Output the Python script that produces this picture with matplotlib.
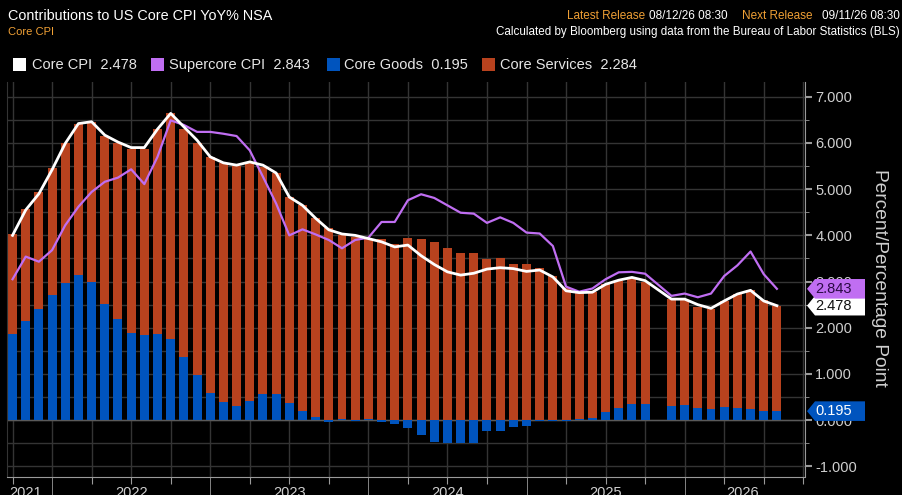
import matplotlib
matplotlib.use("Agg")
import matplotlib.pyplot as plt
import matplotlib.transforms as mtransforms
from matplotlib.patches import Polygon, Rectangle
from matplotlib.ticker import FormatStrFormatter, MultipleLocator
import numpy as np

plt.rcParams['font.family'] = ['Liberation Sans', 'DejaVu Sans']

# monthly contributions, one entry per bar slot (slot 49 has no release)
core_goods = [1.86, 2.15, 2.40, 2.71, 2.97, 3.14, 2.99, 2.51, 2.20, 1.88,
              1.84, 1.86, 1.75, 1.36, 0.97, 0.59, 0.40, 0.30, 0.42, 0.56,
              0.56, 0.38, 0.20, 0.06, -0.03, 0.03, -0.01, 0.03, -0.05, -0.08,
              -0.17, -0.32, -0.47, -0.50, -0.50, -0.49, -0.24, -0.24, -0.14, -0.12,
              -0.02, -0.02, -0.02, 0.02, 0.04, 0.17, 0.26, 0.36, 0.36, np.nan,
              0.31, 0.33, 0.26, 0.24, 0.29, 0.26, 0.24, 0.19, 0.195]
core_services = [2.16, 2.42, 2.53, 2.75, 3.04, 3.26, 3.47, 3.64, 3.79, 4.00,
                 4.04, 4.45, 4.90, 4.95, 5.03, 5.11, 5.17, 5.20, 5.15, 4.92,
                 4.78, 4.45, 4.45, 4.31, 4.15, 3.97, 3.97, 3.89, 3.92, 3.82,
                 3.95, 3.92, 3.86, 3.72, 3.61, 3.61, 3.48, 3.51, 3.37, 3.37,
                 3.30, 3.12, 2.85, 2.74, 2.73, 2.77, 2.76, 2.71, 2.62, np.nan,
                 2.31, 2.27, 2.18, 2.16, 2.29, 2.47, 2.57, 2.41, 2.284]
core_cpi = [4.00, 4.55, 4.90, 5.42, 5.99, 6.42, 6.46, 6.17, 6.02, 5.90,
            5.90, 6.30, 6.64, 6.35, 6.06, 5.70, 5.57, 5.52, 5.59, 5.52,
            5.35, 4.83, 4.65, 4.37, 4.12, 4.03, 4.00, 3.93, 3.86, 3.75,
            3.79, 3.56, 3.37, 3.21, 3.14, 3.18, 3.27, 3.30, 3.28, 3.22,
            3.25, 3.10, 2.80, 2.76, 2.77, 2.94, 3.03, 3.09, 3.02, np.nan,
            2.62, 2.62, 2.50, 2.42, 2.58, 2.73, 2.81, 2.58, 2.478]
supercore_cpi = [3.05, 3.54, 3.43, 3.68, 4.22, 4.62, 4.94, 5.16, 5.25, 5.43,
                 5.11, 5.70, 6.49, 6.39, 6.24, 6.24, 6.20, 6.15, 5.84, 5.27,
                 4.69, 4.00, 4.13, 4.02, 3.90, 3.72, 3.90, 3.95, 4.29, 4.29,
                 4.76, 4.89, 4.81, 4.65, 4.49, 4.47, 4.27, 4.39, 4.27, 4.06,
                 4.04, 3.77, 2.89, 2.78, 2.85, 3.05, 3.20, 3.21, 3.17, np.nan,
                 2.69, 2.74, 2.66, 2.74, 3.12, 3.35, 3.65, 3.16, 2.843]

year_labels = ['2021', '2022', '2023', '2024', '2025', '2026']
year_label_pos = [1.0, 9.0, 21.0, 33.0, 45.0, 55.4]

legend_names = ['Core CPI', 'Supercore CPI', 'Core Goods', 'Core Services']
legend_values = [2.478, 2.843, 0.195, 2.284]

# colours
GRID = '#343434'
AXIS = '#9a9a9a'
ORANGE = '#B8421E'
BLUE = '#0054BE'
PURPLE = '#C06EF2'
AMBER = '#F0A035'
LABEL = '#cfcfcf'

W, H = 903, 495


def fx(px):
    return px / W


def fy(py):
    return 1 - py / H


goods = np.array(core_goods)
services = np.array(core_services)
core = np.array(core_cpi)
sup = np.array(supercore_cpi)
x = np.arange(len(goods))
ok = ~np.isnan(goods)

fig = plt.figure(figsize=(W / 100, H / 100), dpi=100, facecolor='black')
ax = fig.add_axes([fx(7), fy(476.5), fx(805.5) - fx(7), fy(82) - fy(476.5)])
ax.set_facecolor('black')
ax.set_xlim(-0.42, 60.17)
ax.set_ylim(-1.22, 7.32)

# bars: goods from zero, services stacked on positive goods
ax.bar(x[ok], goods[ok], width=0.68, color=BLUE, zorder=2)
ax.bar(x[ok], services[ok], width=0.68, bottom=np.where(goods[ok] > 0, goods[ok], 0),
       color=ORANGE, zorder=2)
ax.plot(x[ok], sup[ok], color=PURPLE, lw=1.6, zorder=3, solid_joinstyle='round')
ax.plot(x[ok], core[ok], color='white', lw=2.0, zorder=4, solid_joinstyle='round')

# grid and axes
ax.yaxis.set_major_locator(MultipleLocator(1))
ax.yaxis.set_minor_locator(MultipleLocator(0.5))
ax.yaxis.set_major_formatter(FormatStrFormatter('%.3f'))
ax.yaxis.tick_right()
quarters = [q for q in range(0, 61, 3)]
julys = [3, 15, 27, 39, 51]
ax.set_xticks([q for q in quarters if q not in julys])
ax.set_xticks(julys, minor=True)
ax.tick_params(axis='x', which='major', length=5, color=AXIS, labelbottom=False)
ax.tick_params(axis='x', which='minor', length=13, color=AXIS, labelbottom=False)
ax.tick_params(axis='y', which='major', length=5, width=1.5, color=AXIS,
               labelcolor=LABEL, labelsize=10.5, pad=2)
ax.tick_params(axis='y', which='minor', length=3, color=AXIS)
ax.grid(which='both', color=GRID, lw=1, zorder=0)
ax.set_axisbelow(True)
ax.axhline(0, color='#5a5a5a', lw=1, zorder=1.5)
ax.spines['top'].set_visible(False)
ax.spines['left'].set_color(GRID)
ax.spines['right'].set_color(AXIS)
ax.spines['bottom'].set_color(AXIS)

year_trans = mtransforms.blended_transform_factory(ax.transData, fig.transFigure)
for lab, pos in zip(year_labels, year_label_pos):
    ax.text(pos, fy(486), lab, transform=year_trans, ha='center', va='top',
            color=LABEL, fontsize=10.5, clip_on=False)

fig.text(fx(880), fy(278), 'Percent/Percentage Point', rotation=270,
         ha='center', va='center', color=LABEL, fontsize=13.8)

# value tags on the right axis
tag_trans = mtransforms.blended_transform_factory(fig.transFigure, ax.transData)
half = 9.8 / 46.2


def value_tag(val, face, txtcolor):
    pts = [[fx(807), val], [fx(815), val + half], [fx(865), val + half],
           [fx(865), val - half], [fx(815), val - half]]
    ax.add_patch(Polygon(pts, closed=True, transform=tag_trans, facecolor=face,
                         edgecolor='none', clip_on=False, zorder=10))
    ax.text(fx(834), val, '%.3f' % val, transform=tag_trans, ha='center', va='center',
            color=txtcolor, fontsize=10.5, clip_on=False, zorder=11)


value_tag(legend_values[0], 'white', '#111111')
value_tag(legend_values[1], PURPLE, '#2a0a44')
value_tag(legend_values[2], BLUE, 'white')

# header
fig.text(fx(8), fy(15.7), 'Contributions to US Core CPI YoY% NSA', color='white',
         fontsize=10.4, va='center')
fig.text(fx(8), fy(32.3), 'Core CPI', color=AMBER, fontsize=8, va='center')
fig.text(fx(567), fy(15.7), 'Latest Release', color=AMBER, fontsize=8.5, va='center')
fig.text(fx(649), fy(15.7), '08/12/26 08:30', color='white', fontsize=8.5, va='center')
fig.text(fx(742), fy(15.7), 'Next Release', color=AMBER, fontsize=8.5, va='center')
fig.text(fx(900), fy(15.7), '09/11/26 08:30', color='white', fontsize=8.5,
         va='center', ha='right')
fig.text(fx(900), fy(32.3),
         'Calculated by Bloomberg using data from the Bureau of Labor Statistics (BLS)',
         color='white', fontsize=8.4, va='center', ha='right')

# legend row
leg_colors = ['white', PURPLE, BLUE, ORANGE]
box_x = [13, 151, 327, 482]
text_x = [32, 169, 344, 500]
for name, val, col, bx, tx in zip(legend_names, legend_values, leg_colors, box_x, text_x):
    fig.add_artist(Rectangle((fx(bx), fy(71.5)), 13 / W, 13 / H,
                             transform=fig.transFigure, facecolor=col, edgecolor='none'))
    fig.text(fx(tx), fy(65), '%s  %.3f' % (name, val), color='#e6e6e6',
             fontsize=10.5, va='center')

fig.savefig('out.png', dpi=100, facecolor='black')
